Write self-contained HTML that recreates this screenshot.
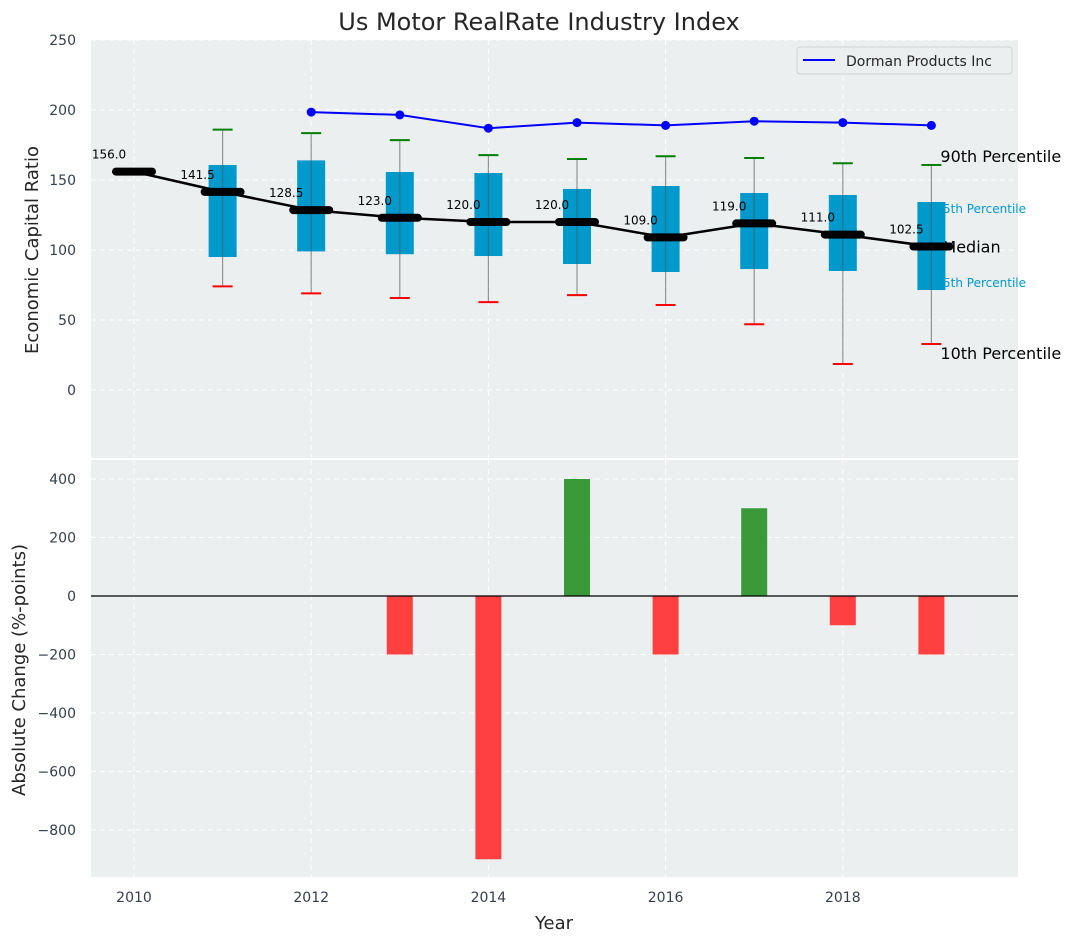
<!DOCTYPE html>
<html><head><meta charset="utf-8"><style>
body{margin:0;background:#fff;font-family:"Liberation Sans","DejaVu Sans",sans-serif}
svg text{font-family:"DejaVu Sans","Liberation Sans",sans-serif}
</style></head><body>
<svg id="c" width="1076" height="942" xmlns="http://www.w3.org/2000/svg"></svg>
<script>
const years=[2010,2011,2012,2013,2014,2015,2016,2017,2018,2019];
const medians=[156,141.5,128.5,123,120,120,109,119,111,102.5];
const p75=[null,160.7,164,155.7,155,143.6,145.7,140.7,139.3,134.3];
const p25=[null,95,99,97,95.7,90,84.3,86.4,85,71.4];
const p90=[null,186,183.5,178.5,167.8,165,167,165.7,162,160.7];
const p10=[null,74,69,65.7,62.8,67.8,60.7,47,18.6,32.9];
const dormanYears=[2012,2013,2014,2015,2016,2017,2018,2019];
const dorman=[198.5,196.5,187,191,189,192,191,189];
const changes=[0,0,0,-200,-900,400,-200,300,-100,-200];
const topTicks=[0,50,100,150,200,250];
const botTicks=[-800,-600,-400,-200,0,200,400];
const xTicks=[2010,2012,2014,2016,2018];

const NS="http://www.w3.org/2000/svg";
const svg=document.getElementById('c');
const L=91,R=1018;
const x=v=>134+(v-2010)*88.6;
const yT=v=>390-v*1.4;
const yB=v=>596-v*0.2925;
function mk(t,a,p){const e=document.createElementNS(NS,t);for(const k in a)e.setAttribute(k,a[k]);(p||svg).appendChild(e);return e;}
function txt(s,a){const e=mk('text',a);e.textContent=s;return e;}

let e=mk('rect',{x:L,y:40,width:R-L,height:418,fill:'#eceff0'});

e=mk('rect',{x:L,y:460,width:R-L,height:417,fill:'#eceff0'});


xTicks.forEach(v=>{
 mk('line',{x1:x(v),x2:x(v),y1:40,y2:458,stroke:'#fff','stroke-dasharray':'5,4','stroke-width':1});
 mk('line',{x1:x(v),x2:x(v),y1:460,y2:877,stroke:'#fff','stroke-dasharray':'5,4','stroke-width':1});
 e=txt(v,{x:x(v),y:902,'text-anchor':'middle','font-size':14,fill:'#333f4f'});
 
});
topTicks.forEach(v=>{
 mk('line',{x1:L,x2:R,y1:yT(v),y2:yT(v),stroke:'#fff','stroke-dasharray':'5,4','stroke-width':1});
 e=txt(v,{x:76,y:yT(v)+5,'text-anchor':'end','font-size':14,fill:'#333f4f'});
 
});
botTicks.forEach(v=>{
 mk('line',{x1:L,x2:R,y1:yB(v),y2:yB(v),stroke:'#fff','stroke-dasharray':'5,4','stroke-width':1});
 e=txt(v<0?'−'+(-v):v,{x:76,y:yB(v)+5,'text-anchor':'end','font-size':14,fill:'#333f4f'});
 
});

const lx=x(2019);
e=txt('90th Percentile',{x:lx+9,y:yT(p90[9])-3,'font-size':16,fill:'#000'});

e=txt('75th Percentile',{x:lx+4,y:yT(p75[9])+11,'font-size':12,fill:'#0099cc'});

e=txt('25th Percentile',{x:lx+4,y:yT(p25[9])-3,'font-size':12,fill:'#0099cc'});

e=txt('10th Percentile',{x:lx+9,y:yT(p10[9])+15,'font-size':16,fill:'#000'});

e=txt('Median',{x:lx+11,y:yT(medians[9])+6,'font-size':16,fill:'#000'});


years.forEach((yr,i)=>{
 if(p75[i]==null)return;
 const cx=x(yr);
 e=mk('rect',{x:cx-14,y:yT(p75[i]),width:28,height:yT(p25[i])-yT(p75[i]),fill:'#0099cc'});
 
 e=mk('line',{x1:cx,x2:cx,y1:yT(p90[i]),y2:yT(p10[i]),stroke:'#555',"stroke-opacity":0.6,'stroke-width':1.2});
 
 e=mk('line',{x1:cx-10,x2:cx+10,y1:yT(p90[i]),y2:yT(p90[i]),stroke:'green','stroke-width':2});
 
 e=mk('line',{x1:cx-10,x2:cx+10,y1:yT(p10[i]),y2:yT(p10[i]),stroke:'red','stroke-width':2});
 
});

e=mk('polyline',{points:years.map((yr,i)=>x(yr)+','+yT(medians[i])).join(' '),fill:'none',stroke:'#000','stroke-width':2.5});

years.forEach((yr,i)=>{
 const cx=x(yr),cy=yT(medians[i]);
 e=mk('line',{x1:cx-18,x2:cx+18,y1:cy,y2:cy,stroke:'#000','stroke-width':8,'stroke-linecap':'round'});
 
 e=txt(medians[i].toFixed(1),{x:cx-25,y:cy-13,'text-anchor':'middle','font-size':12,fill:'#000'});
 
});

e=mk('polyline',{points:dormanYears.map((yr,i)=>x(yr)+','+yT(dorman[i])).join(' '),fill:'none',stroke:'blue','stroke-width':2});

dormanYears.forEach((yr,i)=>{
 e=mk('circle',{cx:x(yr),cy:yT(dorman[i]),r:4.5,fill:'blue'});
 
});

const lg=mk('g',{});

mk('rect',{x:797,y:47,width:215,height:27,rx:3,fill:'#eceff0',stroke:'#cfd2d4'},lg);
mk('line',{x1:803,x2:835,y1:60,y2:60,stroke:'blue','stroke-width':2},lg);
e=txt('Dorman Products Inc',{x:846,y:66,'font-size':14,fill:'#262626'});lg.appendChild(e);

years.forEach((yr,i)=>{
 const v=changes[i];if(v===0)return;
 const y0=yB(Math.max(v,0)),y1=yB(Math.min(v,0));
 e=mk('rect',{x:x(yr)-13,y:y0,width:26,height:y1-y0,fill:v>0?'#3a9a3a':'#ff4040'});
 
});
e=mk('line',{x1:L,x2:R,y1:yB(0),y2:yB(0),stroke:'#000','stroke-width':1.2});


e=txt('Us Motor RealRate Industry Index',{x:539,y:30,'text-anchor':'middle','font-size':24,fill:'#262626'});

e=txt('Year',{x:554,y:929,'text-anchor':'middle','font-size':18,fill:'#262626'});

e=txt('Economic Capital Ratio',{x:0,y:0,'text-anchor':'middle','font-size':18,fill:'#262626',transform:'translate(38,250) rotate(-90)'});

e=txt('Absolute Change (%-points)',{x:0,y:0,'text-anchor':'middle','font-size':18,fill:'#262626',transform:'translate(25,670) rotate(-90)'});

</script>
</body></html>
